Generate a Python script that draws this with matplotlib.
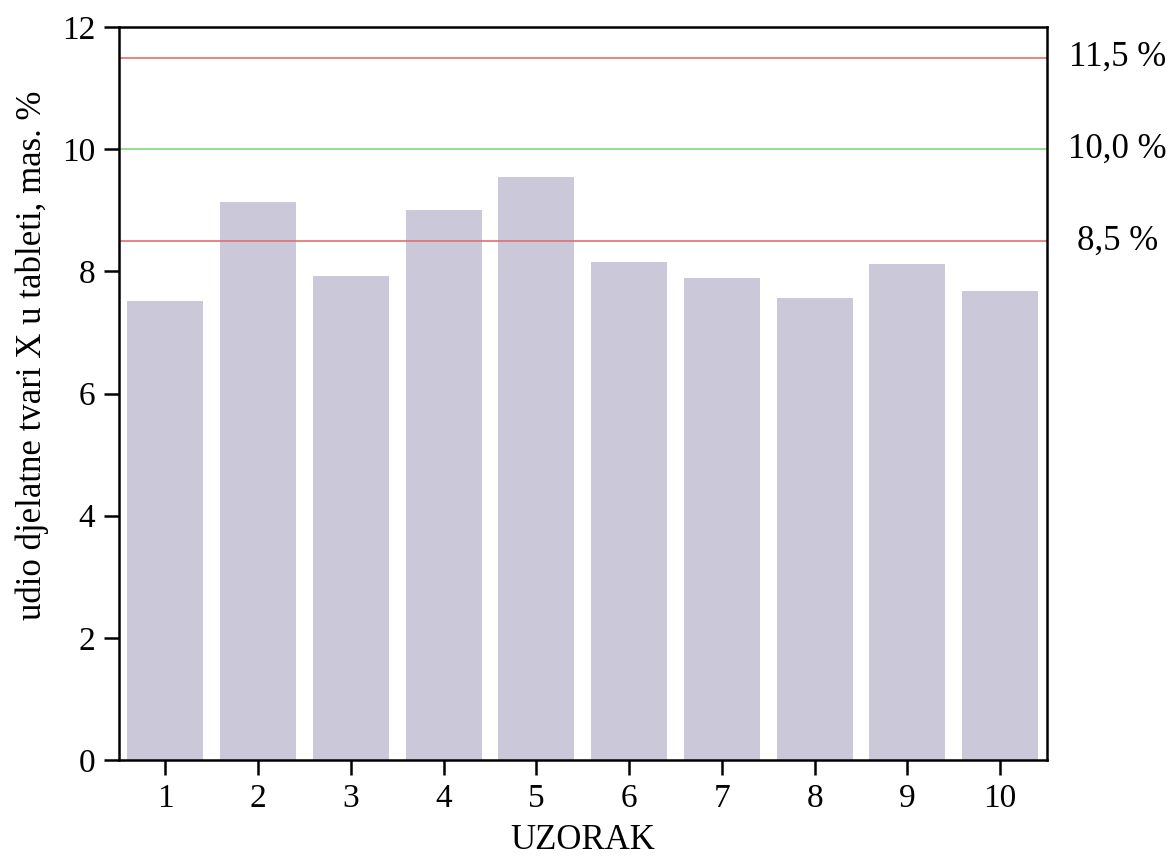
import matplotlib
matplotlib.use("Agg")
import matplotlib.pyplot as plt

# uzorci i udio djelatne tvari
uzorci = [1, 2, 3, 4, 5, 6, 7, 8, 9, 10]
udio = [7.51, 9.13, 7.92, 9.00, 9.54, 8.15, 7.89, 7.56, 8.12, 7.68]

# granice
granice = [11.5, 10.0, 8.5]
granice_boje = ['#e07070', '#80d880', '#e07070']
granice_oznake = ['11,5 %', '10,0 %', '8,5 %']

plt.rcParams['font.family'] = ['Liberation Serif', 'DejaVu Serif']

fig = plt.figure(figsize=(11.75, 8.68), dpi=100)
ax = fig.add_axes([0.1013, 0.1244, 0.7894, 0.8445])

ax.bar(uzorci, udio, width=0.82, color='#cbc9d9', zorder=1)

for g, c, lab in zip(granice, granice_boje, granice_oznake):
    ax.axhline(g, color=c, lw=1.2, zorder=2)
    ax.text(1.0764, g, lab, transform=ax.get_yaxis_transform(), va='center',
            ha='center', fontsize=25)

ax.set_xlim(0.5, 10.5)
ax.set_ylim(0, 12)
ax.set_xticks(uzorci)
ax.set_yticks([0, 2, 4, 6, 8, 10, 12])
ax.tick_params(direction='out', length=11, width=1.8, labelsize=24, pad=6)

for s in ax.spines.values():
    s.set_linewidth(1.8)

ax.set_ylabel('udio djelatne tvari X u tableti, mas. %', fontsize=25)
ax.yaxis.set_label_coords(-0.075, 0.5525)
ax.set_xlabel('UZORAK', fontsize=25)
ax.xaxis.set_label_coords(0.5, -0.087)

plt.savefig('out.png', dpi=100)
